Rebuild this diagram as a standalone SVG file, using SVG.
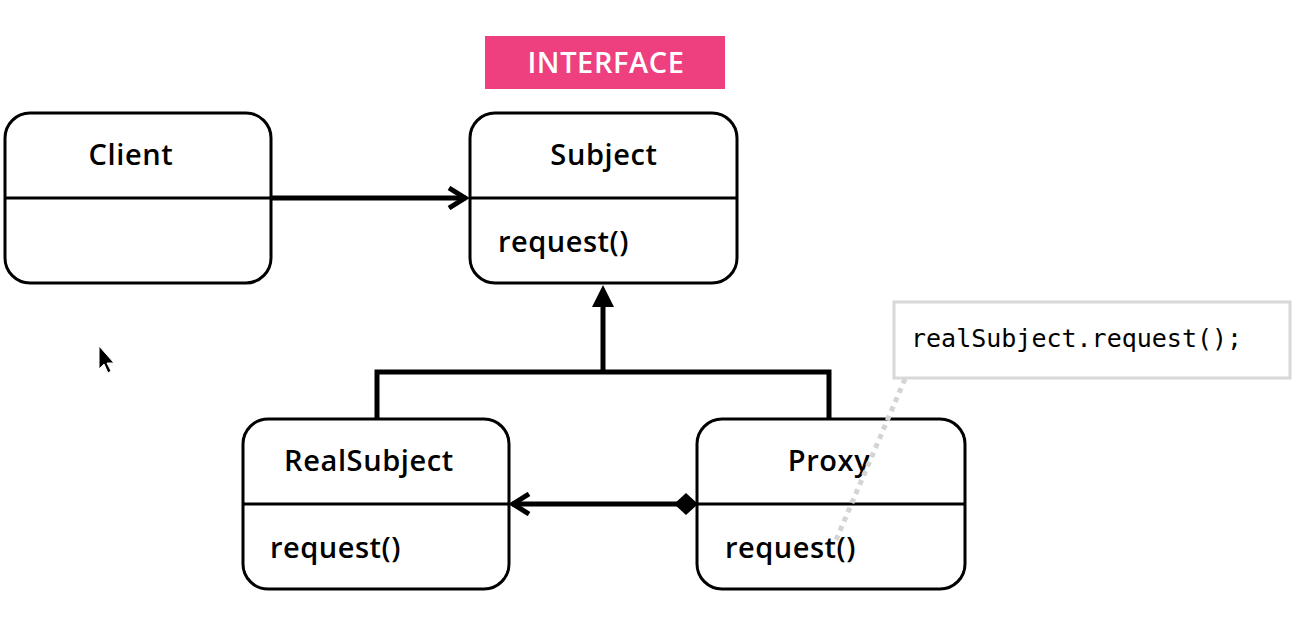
<svg xmlns="http://www.w3.org/2000/svg" width="1300" height="644" viewBox="0 0 1300 644">
<defs>
<style>
.box{fill:#fff;stroke:#000;stroke-width:3}
.div{stroke:#000;stroke-width:3}
.title{font-family:"Open Sans","Liberation Sans",sans-serif;font-size:29px;font-weight:600;letter-spacing:0.6px;fill:#000;text-anchor:middle}
.op{font-family:"Open Sans","Liberation Sans",sans-serif;font-size:29px;font-weight:600;letter-spacing:0.5px;fill:#000}
.edge{stroke:#000;stroke-width:5;fill:none}
</style>
<marker id="open" viewBox="0 0 24 24" refX="21" refY="12" markerWidth="24" markerHeight="24" markerUnits="userSpaceOnUse" orient="auto">
<path d="M4,2 L20,12 L4,22" fill="none" stroke="#000" stroke-width="5"/>
</marker>
</defs>
<rect width="1300" height="644" fill="#fff"/>
<g id="interface-label">
<rect x="485" y="36" width="240" height="53" fill="#ee3f7f"/>
<text x="606" y="73" font-family="Open Sans, Liberation Sans, sans-serif" font-size="29" font-weight="600" letter-spacing="0.6" fill="#fff" text-anchor="middle">INTERFACE</text>
</g>
<g id="connectors">
<line class="edge" x1="271" y1="198" x2="466" y2="198" marker-end="url(#open)"/>
<line class="edge" x1="603" y1="372" x2="603" y2="300"/>
<polygon points="603,285 592,307 614,307" fill="#000"/>
<polyline class="edge" points="377,418 377,372 829,372 829,418"/>
<line class="edge" x1="686" y1="504" x2="512" y2="504" marker-end="url(#open)"/>
<polygon points="674,504 686,493 698,504 686,515" fill="#000"/>
</g>
<g id="client">
<rect class="box" x="5" y="113" width="266" height="170" rx="25"/>
<line class="div" x1="5" y1="198" x2="271" y2="198"/>
<text class="title" x="131" y="165">Client</text>
</g>
<g id="subject">
<rect class="box" x="470" y="113" width="267" height="170" rx="25"/>
<line class="div" x1="470" y1="198" x2="737" y2="198"/>
<text class="title" x="604" y="165">Subject</text>
<text class="op" x="498" y="252">request()</text>
</g>
<g id="realsubject">
<rect class="box" x="243" y="419" width="266" height="170" rx="25"/>
<line class="div" x1="243" y1="504" x2="509" y2="504"/>
<text class="title" x="369" y="471">RealSubject</text>
<text class="op" x="270" y="558">request()</text>
</g>
<g id="proxy">
<rect class="box" x="697" y="419" width="268" height="170" rx="25"/>
<line class="div" x1="697" y1="504" x2="965" y2="504"/>
<text class="title" x="829" y="471">Proxy</text>
<text class="op" x="725" y="558">request()</text>
</g>
<g id="note-link">
<line x1="905" y1="379" x2="836" y2="540" stroke="#d4d4d4" stroke-width="5" stroke-dasharray="5 5"/>
</g>
<g id="note">
<rect x="894" y="302" width="396" height="76" fill="#fff" stroke="#d8d8d8" stroke-width="3"/>
<text x="911" y="347" font-family="DejaVu Sans Mono, Liberation Mono, monospace" font-size="25" fill="#000">realSubject.request();</text>
</g>
<g id="cursor">
<polygon points="99,346 99,369 104,364 108,373 111,371 107,363 114,363" fill="#000" stroke="#fff" stroke-width="1"/>
</g>
</svg>
